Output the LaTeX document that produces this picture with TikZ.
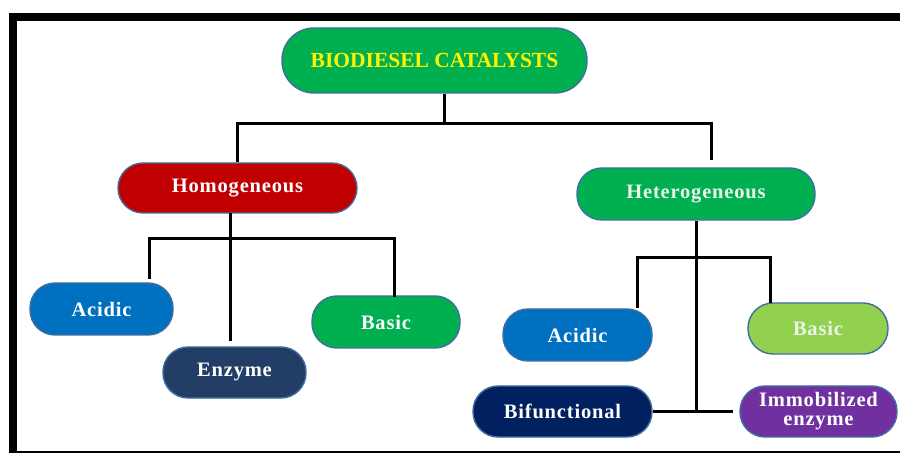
\documentclass[tikz,border=0pt]{standalone}
\usepackage{fontspec}
\setmainfont{Liberation Serif}
\newfontfamily\lblfont[LetterSpace=4]{Liberation Serif}
\definecolor{bordc}{HTML}{3F6E9E}
\definecolor{ogreen}{HTML}{00B050}
\definecolor{ored}{HTML}{C00000}
\definecolor{oblue}{HTML}{0070C0}
\definecolor{oenz}{HTML}{223E66}
\definecolor{onavy}{HTML}{002060}
\definecolor{olime}{HTML}{92D050}
\definecolor{opurple}{HTML}{7030A0}
\definecolor{ltext}{HTML}{EAF5EA}
\tikzset{
  pill/.style={draw=bordc, line width=1.4pt, rounded corners=25pt,
    minimum height=51pt, inner sep=0pt, text=white, align=center,
    font=\lblfont\bfseries\fontsize{20.5}{19}\selectfont},
  conn/.style={line width=3pt, draw=black}
}
\begin{document}
\begin{tikzpicture}[x=1pt,y=-1pt]
\useasboundingbox (0,0) rectangle (900,454);
% frame
\fill[black] (8.5,13) rectangle (900,21);
\fill[black] (8.5,13) rectangle (16.5,453);
\fill[black] (8.5,450.5) rectangle (900,453);

% nodes
\node[pill, fill=ogreen, minimum width=305pt, minimum height=65pt, rounded corners=32pt,
      text=yellow, font=\bfseries\fontsize{21.5}{24}\selectfont] (top) at (434.5,60.5) {BIODIESEL CATALYSTS};
\node[pill, fill=ored, minimum width=239pt, minimum height=50pt] (homo) at (237.5,188) {Homogeneous};
\node[pill, fill=ogreen, minimum width=238pt, minimum height=52pt, text=ltext] (hetero) at (696,194) {Heterogeneous};
\node[pill, fill=oblue, minimum width=143pt, minimum height=52pt] (hacid) at (101.5,309) {Acidic};
\node[pill, fill=oenz, minimum width=143pt] (henz) at (234.5,372.5) {Enzyme};
\node[pill, fill=ogreen, minimum width=148pt, minimum height=52pt] (hbasic) at (386,322) {Basic};
\node[pill, fill=oblue, minimum width=149pt, minimum height=52pt] (tacid) at (577.5,335) {Acidic};
\node[pill, fill=olime, minimum width=140pt, text=ltext] (tbasic) at (818,328.5) {Basic};
\node[pill, fill=onavy, minimum width=179pt] (bif) at (562.5,411.5) {Bifunctional};
\node[pill, fill=opurple, minimum width=157pt] (imm) at (818.5,411.5) {Immobilized\\enzyme};

% top connectors
\coordinate (j0) at (444,124);
\coordinate (j1) at (711,124);
\coordinate (e1) at (711,160);
\draw[conn] (top.south -| j0) -- (j0);
\draw[conn] (homo.north) -- (homo.north |- j0) -- (j1) -- (e1);

% homogeneous connectors
\coordinate (hs) at (230,213);
\coordinate (he) at (230,341);
\coordinate (hl) at (149,239);
\coordinate (hr) at (394,239);
\coordinate (hla) at (149,279);
\coordinate (hrb) at (394,297);
\draw[conn] (hs) -- (he);
\draw[conn] (hla) -- (hl) -- (hr) -- (hrb);

% heterogeneous connectors
\coordinate (tl) at (637,258);
\coordinate (tr) at (770,258);
\coordinate (tla) at (637,308);
\coordinate (trb) at (770,303);
\coordinate (tm) at (696,411.5);
\coordinate (ti) at (733,411.5);
\draw[conn] (hetero.south) -- (tm);
\draw[conn] (tla) -- (tl) -- (tr) -- (trb);
\draw[conn] (bif.east) -- (ti);
\end{tikzpicture}
\end{document}
